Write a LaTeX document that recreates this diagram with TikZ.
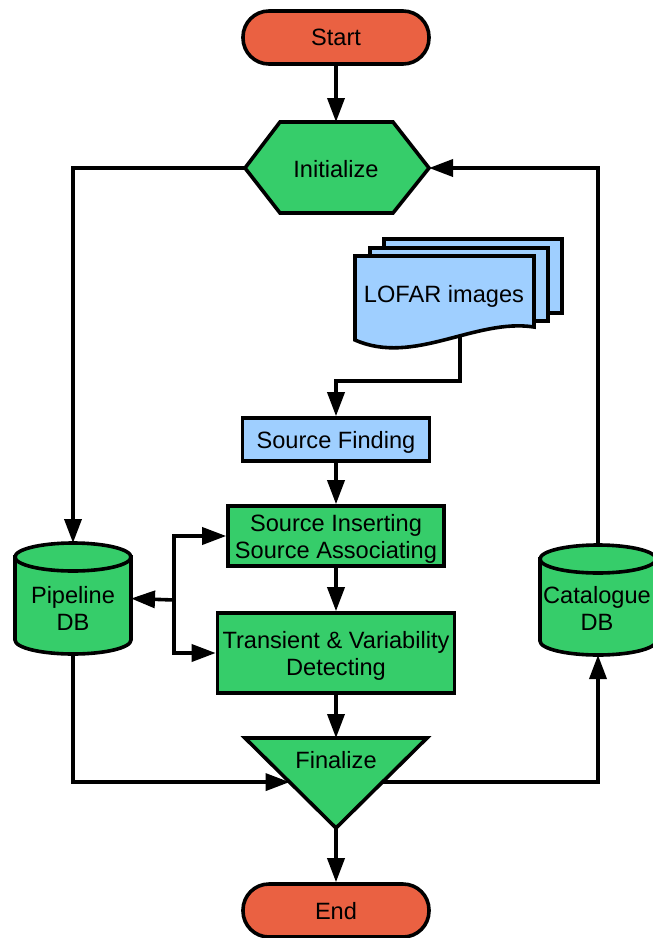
\documentclass[tikz,border=0pt]{standalone}
\usepackage{fontspec}
\setmainfont{Liberation Sans}
\usetikzlibrary{arrows.meta,calc}
\definecolor{termred}{HTML}{EA6142}
\definecolor{procgreen}{HTML}{36CD6A}
\definecolor{ioblue}{HTML}{9FCFFF}

\begin{document}
\begin{tikzpicture}[x=1pt,y=-1pt,
  every node/.style={font=\fontsize{23.6}{27}\selectfont,text depth=0pt},
  outl/.style={draw=black,line width=3.6pt,line join=miter},
  term/.style={outl,fill=termred,rounded corners=26pt,minimum width=186pt,minimum height=53pt,inner sep=0},
  proc/.style={outl,fill=procgreen,inner sep=0,align=center},
  io/.style={outl,fill=ioblue,inner sep=0},
  hull/.style={inner sep=0,outer sep=0},
  lbl/.style={inner sep=0,align=center},
  arr/.style={line width=3.6pt,-{Triangle[length=24pt,width=17pt]}}]

\useasboundingbox (0,0) rectangle (653,938);

% terminals
\node[term] (start) at (336,37.5) {Start};
\node[term] (end) at (336,910.5) {End};

% Initialize (hexagon)
\coordinate (iniW) at (245,168);
\coordinate (iniE) at (429,168);
\coordinate (iniN) at (336,122);
\filldraw[outl,fill=procgreen] (iniW) -- (280,122) -- (393,122) -- (iniE) -- (393,213) -- (280,213) -- cycle;
\node[lbl] (ini) at (336,168.5) {Initialize};

% LOFAR images (stacked documents)
\filldraw[io] (384,239) rectangle (562,313);
\filldraw[io] (370,248) rectangle (548,321);
\coordinate (lofout) at (460,335);
\filldraw[io] (355,340) -- (355,256) -- (534,256) -- (534,327)
  .. controls (475,318) and (414,366) .. (355,340) -- cycle;
\node[lbl] (lofar) at (444,294) {LOFAR images};

% processing steps
\node[io,minimum width=187pt,minimum height=43pt] (find) at (336,439.5) {Source Finding};
\node[proc,minimum width=216pt,minimum height=60pt] (insert) at (336,536) {Source Inserting\\Source Associating};
\node[proc,minimum width=237pt,minimum height=80pt] (detect) at (336,653) {Transient \& Variability\\Detecting};

% Finalize (downward triangle)
\coordinate (finL) at (245,738);
\coordinate (finR) at (427,738);
\coordinate (finT) at (336,738);
\coordinate (finB) at (336,828);
\filldraw[outl,fill=procgreen] (finL) -- (finR) -- (finB) -- cycle;
\node[lbl] (fin) at (336,760) {Finalize};

% databases (cylinders)
\node[hull,minimum width=116pt,minimum height=111pt] (pdb) at (73,598.5) {};
\filldraw[outl,fill=procgreen] (15,557) -- (15,640)
  arc[start angle=180,end angle=360,x radius=58pt,y radius=14pt] -- (131,557) -- cycle;
\filldraw[outl,fill=procgreen] (73,557) ellipse[x radius=58pt,y radius=14pt];
\node[lbl] (pdbtext) at (73,608) {Pipeline\\DB};

\node[hull,minimum width=116pt,minimum height=110pt] (cat) at (598,600) {};
\filldraw[outl,fill=procgreen] (540,559) -- (540,641)
  arc[start angle=180,end angle=360,x radius=58pt,y radius=14pt] -- (656,559) -- cycle;
\filldraw[outl,fill=procgreen] (598,559) ellipse[x radius=58pt,y radius=14pt];
\node[lbl] (cattext) at (597,608) {Catalogue\\DB};

% connectors
\coordinate (bend) at (460,381);
\coordinate (jn) at (174,600);
\draw[arr] (start) -- (iniN);
\draw[arr] (iniW) -| (pdb.north);
\draw[arr] (cat.north) |- (iniE);
\draw[arr] (lofout) -- (bend) -| (find.north);
\draw[arr] (find) -- (insert);
\draw[arr] (insert) -- (detect);
\draw[arr] (detect.south) -- (finT);
\draw[arr] (jn) -- (pdb.east);
\draw[arr] (jn) |- (insert.west);
\draw[arr] (jn) |- (detect.west);
\draw[arr] (pdb.south) |- ($(finL)!0.49!(finB)$);
\draw[arr] ($(finR)!0.49!(finB)$) -| (cat.south);
\draw[arr] (finB) -- (end);
\end{tikzpicture}
\end{document}
